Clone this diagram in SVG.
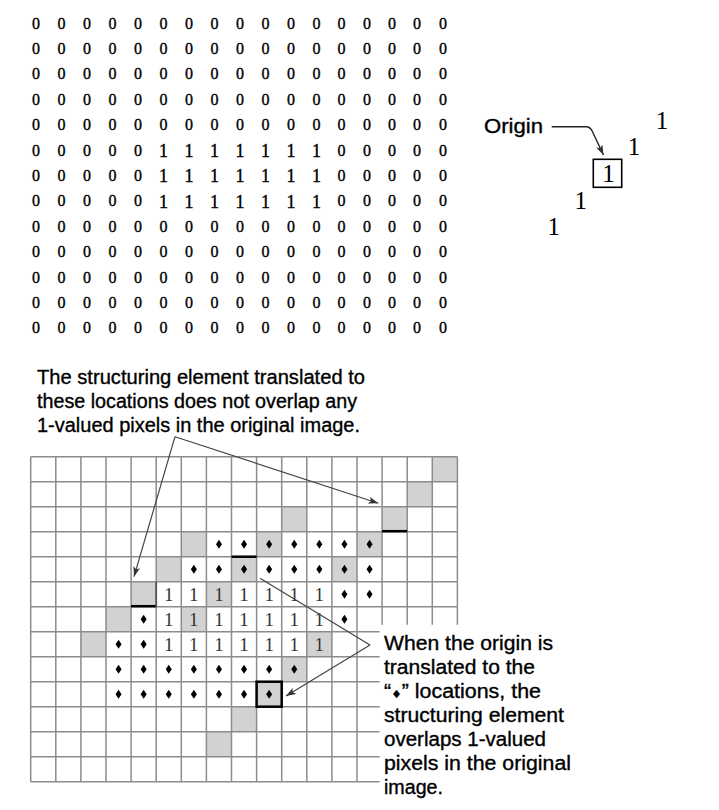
<svg xmlns="http://www.w3.org/2000/svg" xmlns:xlink="http://www.w3.org/1999/xlink" width="719" height="810" viewBox="0 0 719 810">
<style>
.z{font-family:"Liberation Serif",serif;font-size:16px;text-anchor:middle;fill:#000;stroke:#000;stroke-width:0.35}
.o{font-size:18px}
.g1{font-family:"Liberation Serif",serif;font-size:19px;fill:#333;text-anchor:middle}
.se{font-family:"Liberation Serif",serif;font-size:25px;text-anchor:middle;fill:#000}
.lbl{font-family:"Liberation Sans",Arial,sans-serif;font-size:20px;fill:#000;stroke:#000;stroke-width:0.35}
.gl{fill:none;stroke:#8c8c8c;stroke-width:1.5}
.gc{fill:#d2d2d2}
.bm{stroke:#000;stroke-width:2.5;fill:none}
.ar{fill:none;stroke:#444;stroke-width:1.2}
</style>
<defs>
<marker id="ah" viewBox="0 0 10 7" refX="10" refY="3.5" markerWidth="10" markerHeight="7" markerUnits="userSpaceOnUse" orient="auto">
<path d="M0,0 L10,3.5 L0,7 L2.5,3.5Z" fill="#333"/>
</marker>
<path id="d" d="M0,-4.5 L3,0 L0,4.5 L-3,0Z" fill="#000"/>
</defs>
<rect width="719" height="810" fill="#fff"/>

<g id="matrix">
<g class="z" transform="translate(0,28.6)"><text x="36">0</text><text x="61.5">0</text><text x="87">0</text><text x="112.5">0</text><text x="138">0</text><text x="163.5">0</text><text x="189">0</text><text x="214.5">0</text><text x="240">0</text><text x="265.5">0</text><text x="291">0</text><text x="316.5">0</text><text x="341.5">0</text><text x="367">0</text><text x="392">0</text><text x="417">0</text><text x="443">0</text></g>
<g class="z" transform="translate(0,54)"><text x="36">0</text><text x="61.5">0</text><text x="87">0</text><text x="112.5">0</text><text x="138">0</text><text x="163.5">0</text><text x="189">0</text><text x="214.5">0</text><text x="240">0</text><text x="265.5">0</text><text x="291">0</text><text x="316.5">0</text><text x="341.5">0</text><text x="367">0</text><text x="392">0</text><text x="417">0</text><text x="443">0</text></g>
<g class="z" transform="translate(0,79.4)"><text x="36">0</text><text x="61.5">0</text><text x="87">0</text><text x="112.5">0</text><text x="138">0</text><text x="163.5">0</text><text x="189">0</text><text x="214.5">0</text><text x="240">0</text><text x="265.5">0</text><text x="291">0</text><text x="316.5">0</text><text x="341.5">0</text><text x="367">0</text><text x="392">0</text><text x="417">0</text><text x="443">0</text></g>
<g class="z" transform="translate(0,104.8)"><text x="36">0</text><text x="61.5">0</text><text x="87">0</text><text x="112.5">0</text><text x="138">0</text><text x="163.5">0</text><text x="189">0</text><text x="214.5">0</text><text x="240">0</text><text x="265.5">0</text><text x="291">0</text><text x="316.5">0</text><text x="341.5">0</text><text x="367">0</text><text x="392">0</text><text x="417">0</text><text x="443">0</text></g>
<g class="z" transform="translate(0,130.2)"><text x="36">0</text><text x="61.5">0</text><text x="87">0</text><text x="112.5">0</text><text x="138">0</text><text x="163.5">0</text><text x="189">0</text><text x="214.5">0</text><text x="240">0</text><text x="265.5">0</text><text x="291">0</text><text x="316.5">0</text><text x="341.5">0</text><text x="367">0</text><text x="392">0</text><text x="417">0</text><text x="443">0</text></g>
<g class="z" transform="translate(0,155.6)"><text x="36">0</text><text x="61.5">0</text><text x="87">0</text><text x="112.5">0</text><text x="138">0</text><text class="o" x="163.5" y="1.2">1</text><text class="o" x="189" y="1.2">1</text><text class="o" x="214.5" y="1.2">1</text><text class="o" x="240" y="1.2">1</text><text class="o" x="265.5" y="1.2">1</text><text class="o" x="291" y="1.2">1</text><text class="o" x="316.5" y="1.2">1</text><text x="341.5">0</text><text x="367">0</text><text x="392">0</text><text x="417">0</text><text x="443">0</text></g>
<g class="z" transform="translate(0,181)"><text x="36">0</text><text x="61.5">0</text><text x="87">0</text><text x="112.5">0</text><text x="138">0</text><text class="o" x="163.5" y="1.2">1</text><text class="o" x="189" y="1.2">1</text><text class="o" x="214.5" y="1.2">1</text><text class="o" x="240" y="1.2">1</text><text class="o" x="265.5" y="1.2">1</text><text class="o" x="291" y="1.2">1</text><text class="o" x="316.5" y="1.2">1</text><text x="341.5">0</text><text x="367">0</text><text x="392">0</text><text x="417">0</text><text x="443">0</text></g>
<g class="z" transform="translate(0,206.4)"><text x="36">0</text><text x="61.5">0</text><text x="87">0</text><text x="112.5">0</text><text x="138">0</text><text class="o" x="163.5" y="1.2">1</text><text class="o" x="189" y="1.2">1</text><text class="o" x="214.5" y="1.2">1</text><text class="o" x="240" y="1.2">1</text><text class="o" x="265.5" y="1.2">1</text><text class="o" x="291" y="1.2">1</text><text class="o" x="316.5" y="1.2">1</text><text x="341.5">0</text><text x="367">0</text><text x="392">0</text><text x="417">0</text><text x="443">0</text></g>
<g class="z" transform="translate(0,231.8)"><text x="36">0</text><text x="61.5">0</text><text x="87">0</text><text x="112.5">0</text><text x="138">0</text><text x="163.5">0</text><text x="189">0</text><text x="214.5">0</text><text x="240">0</text><text x="265.5">0</text><text x="291">0</text><text x="316.5">0</text><text x="341.5">0</text><text x="367">0</text><text x="392">0</text><text x="417">0</text><text x="443">0</text></g>
<g class="z" transform="translate(0,257.2)"><text x="36">0</text><text x="61.5">0</text><text x="87">0</text><text x="112.5">0</text><text x="138">0</text><text x="163.5">0</text><text x="189">0</text><text x="214.5">0</text><text x="240">0</text><text x="265.5">0</text><text x="291">0</text><text x="316.5">0</text><text x="341.5">0</text><text x="367">0</text><text x="392">0</text><text x="417">0</text><text x="443">0</text></g>
<g class="z" transform="translate(0,282.6)"><text x="36">0</text><text x="61.5">0</text><text x="87">0</text><text x="112.5">0</text><text x="138">0</text><text x="163.5">0</text><text x="189">0</text><text x="214.5">0</text><text x="240">0</text><text x="265.5">0</text><text x="291">0</text><text x="316.5">0</text><text x="341.5">0</text><text x="367">0</text><text x="392">0</text><text x="417">0</text><text x="443">0</text></g>
<g class="z" transform="translate(0,308)"><text x="36">0</text><text x="61.5">0</text><text x="87">0</text><text x="112.5">0</text><text x="138">0</text><text x="163.5">0</text><text x="189">0</text><text x="214.5">0</text><text x="240">0</text><text x="265.5">0</text><text x="291">0</text><text x="316.5">0</text><text x="341.5">0</text><text x="367">0</text><text x="392">0</text><text x="417">0</text><text x="443">0</text></g>
<g class="z" transform="translate(0,333.4)"><text x="36">0</text><text x="61.5">0</text><text x="87">0</text><text x="112.5">0</text><text x="138">0</text><text x="163.5">0</text><text x="189">0</text><text x="214.5">0</text><text x="240">0</text><text x="265.5">0</text><text x="291">0</text><text x="316.5">0</text><text x="341.5">0</text><text x="367">0</text><text x="392">0</text><text x="417">0</text><text x="443">0</text></g>
</g>

<g id="structuring-element">
<text class="se" x="662" y="128.5">1</text>
<text class="se" x="634" y="154.5">1</text>
<rect x="593.3" y="159.3" width="28.4" height="28" fill="none" stroke="#000" stroke-width="1.6"/>
<text class="se" x="608.5" y="181.8">1</text>
<text class="se" x="580.8" y="209.3">1</text>
<text class="se" x="553.7" y="234.5">1</text>
</g>
<g id="origin-label">
<text class="lbl" x="484" y="133.3" textLength="59" lengthAdjust="spacingAndGlyphs">Origin</text>
</g>

<g id="grid" transform="translate(30.7,456.7)">
<g id="gray-cells" class="gc">
<rect x="401.6" y="0" width="25.1" height="25"/>
<rect x="376.5" y="25" width="25.1" height="25"/>
<rect x="251" y="50" width="25.1" height="25"/>
<rect x="351.4" y="50" width="25.1" height="25"/>
<rect x="150.6" y="75" width="25.1" height="25"/>
<rect x="225.9" y="75" width="25.1" height="25"/>
<rect x="326.3" y="75" width="25.1" height="25"/>
<rect x="125.5" y="100" width="25.1" height="25"/>
<rect x="200.8" y="100" width="25.1" height="25"/>
<rect x="301.2" y="100" width="25.1" height="25"/>
<rect x="100.4" y="125" width="25.1" height="25"/>
<rect x="175.7" y="125" width="25.1" height="25"/>
<rect x="75.3" y="150" width="25.1" height="25"/>
<rect x="150.6" y="150" width="25.1" height="25"/>
<rect x="50.2" y="175" width="25.1" height="25"/>
<rect x="276.1" y="175" width="25.1" height="25"/>
<rect x="251" y="200" width="25.1" height="25"/>
<rect x="225.9" y="225" width="25.1" height="25"/>
<rect x="200.8" y="250" width="25.1" height="25"/>
<rect x="175.7" y="275" width="25.1" height="25"/>
</g>
<path class="gl" d="M0,0V325 M25.1,0V325 M50.2,0V325 M75.3,0V325 M100.4,0V325 M125.5,0V325 M150.6,0V325 M175.7,0V325 M200.8,0V325 M225.9,0V325 M251,0V325 M276.1,0V325 M301.2,0V325 M326.3,0V325 M351.4,0V168 M376.5,0V168 M401.6,0V168 M426.7,0V168 M0,0H426.7 M0,25H426.7 M0,50H426.7 M0,75H426.7 M0,100H426.7 M0,125H426.7 M0,150H426.7 M0,175H349 M0,200H349 M0,225H349 M0,250H349 M0,275H349 M0,300H349 M0,325H349"/>
<g id="ones" class="g1">
<text x="138.05" y="144">1</text><text x="163.15" y="144">1</text><text x="188.25" y="144">1</text><text x="213.35" y="144">1</text><text x="238.45" y="144">1</text><text x="263.55" y="144">1</text><text x="288.65" y="144">1</text>
<text x="138.05" y="169">1</text><text x="163.15" y="169">1</text><text x="188.25" y="169">1</text><text x="213.35" y="169">1</text><text x="238.45" y="169">1</text><text x="263.55" y="169">1</text><text x="288.65" y="169">1</text>
<text x="138.05" y="194">1</text><text x="163.15" y="194">1</text><text x="188.25" y="194">1</text><text x="213.35" y="194">1</text><text x="238.45" y="194">1</text><text x="263.55" y="194">1</text><text x="288.65" y="194">1</text>
</g>
<g id="diamonds">
<use href="#d" x="188.25" y="87.5"/><use href="#d" x="213.35" y="87.5"/><use href="#d" x="238.45" y="87.5"/><use href="#d" x="263.55" y="87.5"/><use href="#d" x="288.65" y="87.5"/><use href="#d" x="313.75" y="87.5"/><use href="#d" x="338.85" y="87.5"/>
<use href="#d" x="163.15" y="112.5"/><use href="#d" x="188.25" y="112.5"/><use href="#d" x="213.35" y="112.5"/><use href="#d" x="238.45" y="112.5"/><use href="#d" x="263.55" y="112.5"/><use href="#d" x="288.65" y="112.5"/><use href="#d" x="313.75" y="112.5"/><use href="#d" x="338.85" y="112.5"/>
<use href="#d" x="313.75" y="137.5"/><use href="#d" x="338.85" y="137.5"/>
<use href="#d" x="112.95" y="162.5"/><use href="#d" x="313.75" y="162.5"/>
<use href="#d" x="87.85" y="187.5"/><use href="#d" x="112.95" y="187.5"/>
<use href="#d" x="87.85" y="212.5"/><use href="#d" x="112.95" y="212.5"/><use href="#d" x="138.05" y="212.5"/><use href="#d" x="163.15" y="212.5"/><use href="#d" x="188.25" y="212.5"/><use href="#d" x="213.35" y="212.5"/><use href="#d" x="238.45" y="212.5"/><use href="#d" x="263.55" y="212.5"/>
<use href="#d" x="87.85" y="237.5"/><use href="#d" x="112.95" y="237.5"/><use href="#d" x="138.05" y="237.5"/><use href="#d" x="163.15" y="237.5"/><use href="#d" x="188.25" y="237.5"/><use href="#d" x="213.35" y="237.5"/><use href="#d" x="238.45" y="237.5"/>
</g>
<g id="origin-marks" class="bm">
<path d="M351.4,74.5H376.5"/>
<path d="M200.8,100H225.9"/>
<path d="M100.4,149.5H125.5"/>
<path d="M125.5,125V150" stroke="#555" stroke-width="1.8"/>
<rect x="225.9" y="225" width="25.1" height="25"/>
</g>
</g>

<g id="label-top">
<text class="lbl" x="37" y="384" textLength="328" lengthAdjust="spacingAndGlyphs">The structuring element translated to</text>
<text class="lbl" x="37" y="408" textLength="320" lengthAdjust="spacingAndGlyphs">these locations does not overlap any</text>
<text class="lbl" x="37" y="432" textLength="323" lengthAdjust="spacingAndGlyphs">1-valued pixels in the original image.</text>
</g>
<g id="label-right">
<text class="lbl" x="384" y="650" textLength="169" lengthAdjust="spacingAndGlyphs">When the origin is</text>
<text class="lbl" x="384" y="674" textLength="151" lengthAdjust="spacingAndGlyphs">translated to the</text>
<text class="lbl" x="384" y="698" textLength="157" lengthAdjust="spacingAndGlyphs">“<tspan font-family="DejaVu Sans" font-size="11">♦</tspan>” locations, the</text>
<text class="lbl" x="384" y="722" textLength="180" lengthAdjust="spacingAndGlyphs">structuring element</text>
<text class="lbl" x="384" y="746" textLength="162" lengthAdjust="spacingAndGlyphs">overlaps 1-valued</text>
<text class="lbl" x="384" y="770" textLength="187" lengthAdjust="spacingAndGlyphs">pixels in the original</text>
<text class="lbl" x="384" y="794" textLength="59" lengthAdjust="spacingAndGlyphs">image.</text>
</g>

<g id="connectors" class="ar">
<path d="M175,436.7 L134,576.7" marker-end="url(#ah)"/>
<path d="M175,436.7 L378.3,503.3" marker-end="url(#ah)"/>
<path d="M370,645 L260,578.3"/>
<path d="M370,645 L286,696" marker-end="url(#ah)"/>
<path d="M551.7,126.7 H586 Q590,126.7 592,130.7 L603.5,155" stroke="#222" stroke-width="1.4" marker-end="url(#ah)"/>
</g>
</svg>
